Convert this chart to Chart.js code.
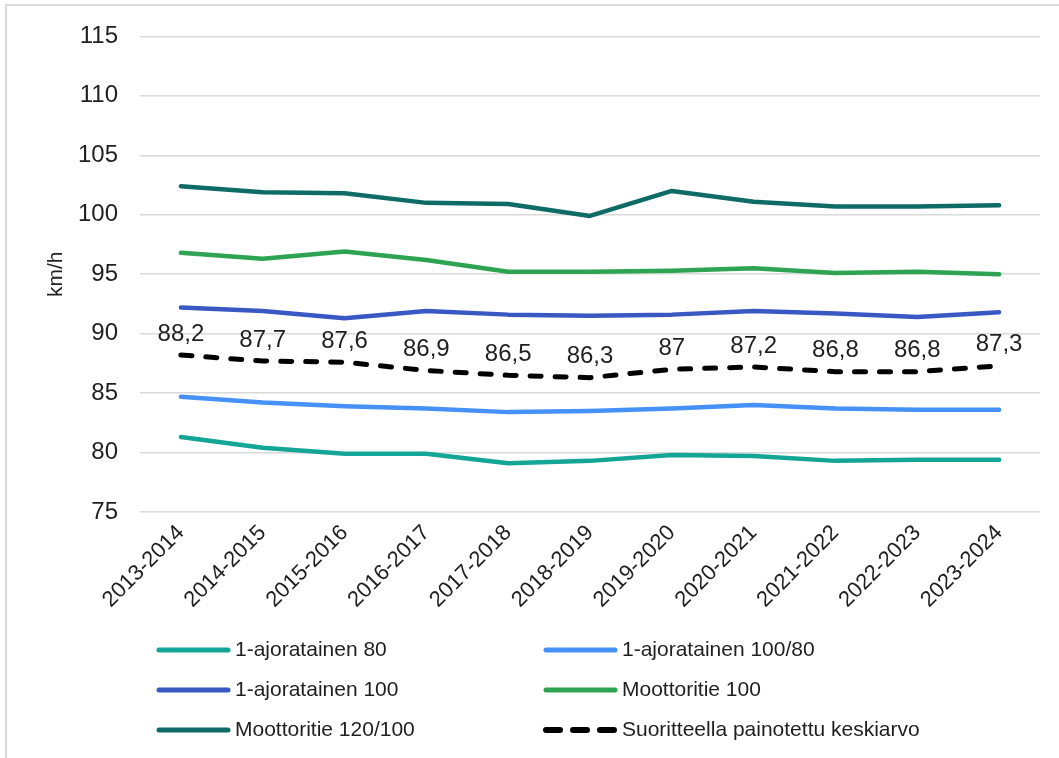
<!DOCTYPE html>
<html>
<head>
<meta charset="utf-8">
<script src="https://cdn.jsdelivr.net/npm/chart.js@4"></script>
<style>
  html, body { margin: 0; padding: 0; background: #fff; }
  #wrap { position: relative; width: 1059px; height: 758px; overflow: hidden; }
  #frame { position: absolute; left: 5px; top: 4px; right: -10px; bottom: -10px; border-left: 2px solid #d9d9d9; border-top: 2px solid #d9d9d9; pointer-events: none; }
  canvas { display: block; }
</style>
</head>
<body>
<div id="wrap">
  <canvas id="c" width="1059" height="758"></canvas>
  <div id="frame"></div>
</div>
<script>
const categories = ['2013-2014','2014-2015','2015-2016','2016-2017','2017-2018','2018-2019','2019-2020','2020-2021','2021-2022','2022-2023','2023-2024'];
const ajo80     = [81.3, 80.4, 79.9, 79.9, 79.1, 79.3, 79.8, 79.7, 79.3, 79.4, 79.4];
const ajo10080  = [84.7, 84.2, 83.9, 83.7, 83.4, 83.5, 83.7, 84.0, 83.7, 83.6, 83.6];
const ajo100    = [92.2, 91.9, 91.3, 91.9, 91.6, 91.5, 91.6, 91.9, 91.7, 91.4, 91.8];
const moot100   = [96.8, 96.3, 96.9, 96.2, 95.2, 95.2, 95.3, 95.5, 95.1, 95.2, 95.0];
const moot120   = [102.4, 101.9, 101.8, 101.0, 100.9, 99.9, 102.0, 101.1, 100.7, 100.7, 100.8];
const average   = [88.2, 87.7, 87.6, 86.9, 86.5, 86.3, 87, 87.2, 86.8, 86.8, 87.3];
const seriesNames = ['1-ajoratainen 80', '1-ajoratainen 100/80', '1-ajoratainen 100', 'Moottoritie 100', 'Moottoritie 120/100', 'Suoritteella painotettu keskiarvo'];
const yTicks = [75, 80, 85, 90, 95, 100, 105, 110, 115];

const FONT = '"Liberation Sans", Arial, sans-serif';
const TEXT = '#1f1f1f';

function solid(label, data, color) {
  return { label, data, borderColor: color, backgroundColor: color, borderWidth: 4.5,
           pointRadius: 0, pointHoverRadius: 0, tension: 0, borderCapStyle: 'round', borderJoinStyle: 'round', fill: false };
}

const datasets = [
  solid(seriesNames[0], ajo80, '#13a595'),
  solid(seriesNames[1], ajo10080, '#4691f7'),
  solid(seriesNames[2], ajo100, '#3a58c4'),
  solid(seriesNames[3], moot100, '#2ea352'),
  solid(seriesNames[4], moot120, '#0f6b66'),
  Object.assign(solid(seriesNames[5], average, '#000000'), { borderWidth: 5, borderDash: [11, 14], showValues: true, legendDash: [14, 13] })
];

const valueLabels = {
  id: 'valueLabels',
  afterDatasetsDraw(chart) {
    const ctx = chart.ctx;
    chart.data.datasets.forEach((ds, di) => {
      if (!ds.showValues) return;
      const meta = chart.getDatasetMeta(di);
      ctx.save();
      ctx.font = '24px ' + FONT;
      ctx.fillStyle = TEXT;
      ctx.textAlign = 'center';
      ctx.textBaseline = 'middle';
      meta.data.forEach((pt, i) => {
        ctx.fillText(String(ds.data[i]).replace('.', ','), pt.x, pt.y - 21);
      });
      ctx.restore();
    });
  }
};

const gridLegend = {
  id: 'gridLegend',
  afterDraw(chart) {
    const ctx = chart.ctx;
    const colX = [156, 543];
    const rowY = [650, 690, 730];
    const lineLen = 75;
    chart.data.datasets.forEach((ds, i) => {
      const x = colX[i % 2];
      const y = rowY[Math.floor(i / 2)];
      ctx.save();
      ctx.strokeStyle = ds.borderColor;
      ctx.lineWidth = ds.showValues ? 6 : 5;
      ctx.lineCap = 'round';
      ctx.setLineDash(ds.legendDash || []);
      ctx.beginPath();
      ctx.moveTo(x + 3, y);
      ctx.lineTo(x + lineLen - 3, y);
      ctx.stroke();
      ctx.setLineDash([]);
      ctx.font = '21px ' + FONT;
      ctx.fillStyle = TEXT;
      ctx.textAlign = 'left';
      ctx.textBaseline = 'middle';
      ctx.fillText(ds.label, x + lineLen + 4, y);
      ctx.restore();
    });
  }
};

new Chart(document.getElementById('c'), {
  type: 'line',
  data: { labels: categories, datasets },
  options: {
    responsive: false,
    animation: false,
    devicePixelRatio: 1,
    layout: { padding: { top: 34, right: 19, bottom: 136, left: 0 } },
    plugins: { legend: { display: false }, tooltip: { enabled: false } },
    scales: {
      x: {
        offset: true,
        grid: { display: false, drawTicks: false },
        border: { display: false },
        ticks: { minRotation: 45, maxRotation: 45, autoSkip: false, padding: 8, color: TEXT, font: { family: FONT, size: 22 } },
        afterFit(scale) { scale.height = 110; }
      },
      y: {
        min: 75, max: 115,
        afterBuildTicks(scale) { scale.ticks = yTicks.map(v => ({ value: v })); },
        grid: { color: '#d9d9d9', lineWidth: 1.5, drawTicks: false },
        border: { display: false },
        ticks: { padding: 22, color: TEXT, font: { family: FONT, size: 24 } },
        title: { display: true, text: 'km/h', color: TEXT, font: { family: FONT, size: 21 }, padding: { top: 44, bottom: 0 } },
        afterFit(scale) { scale.width = 140; }
      }
    }
  },
  plugins: [valueLabels, gridLegend]
});
</script>
</body>
</html>
